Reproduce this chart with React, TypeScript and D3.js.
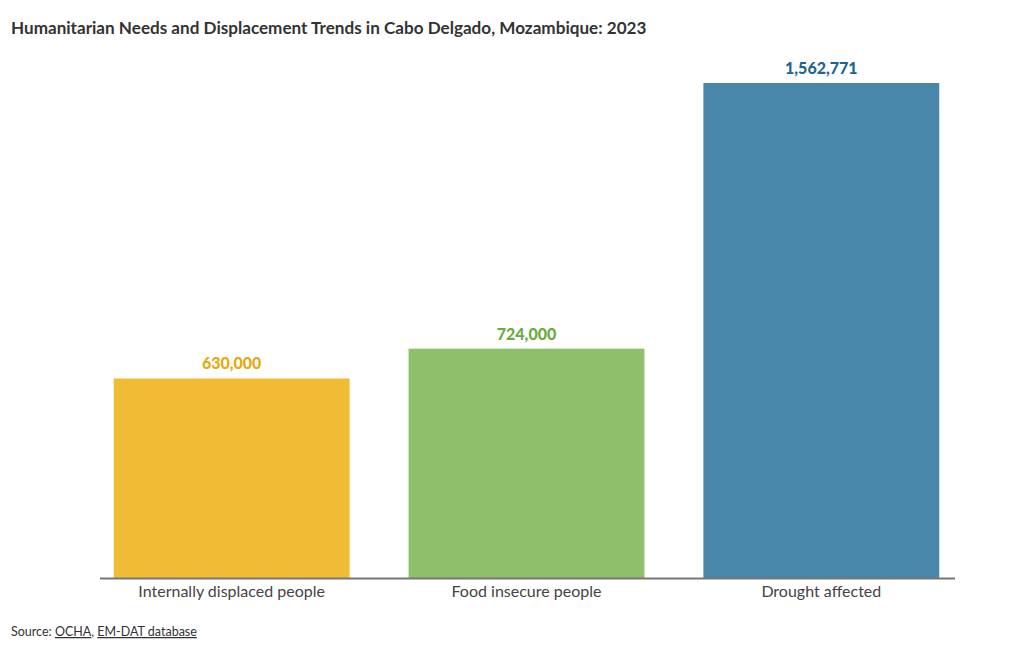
import React from "react";
import * as d3 from "d3";

const categories = ["Internally displaced people", "Food insecure people", "Drought affected"];
const values = [630000, 724000, 1562771];
const barColors = ["#F0BC35", "#8EC06C", "#4887AA"];
const labelColors = ["#E5A90C", "#6AAB3E", "#1E6593"];

const W = 1020;
const H = 650;
const FONT = "Lato, 'Open Sans', sans-serif";

export default function App() {
  const x = d3.scaleBand<string>().domain(categories).range([99, 954]).paddingInner(0.2).paddingOuter(0.05);
  const y = d3.scaleLinear().domain([0, d3.max(values)!]).range([578, 83]);
  const fmt = d3.format(",");
  return (
    <svg width={W} height={H} style={{ position: "absolute", left: 0, top: 0, fontFamily: FONT }}>
      <rect width={W} height={H} fill="#fff" />
      <text x={11} y={34} fontSize={17.1} fontWeight={700} fill="#333">
        Humanitarian Needs and Displacement Trends in Cabo Delgado, Mozambique: 2023
      </text>
      {categories.map((c, i) => (
        <g key={c}>
          <rect x={x(c)} y={y(values[i])} width={x.bandwidth()} height={y(0) - y(values[i])} fill={barColors[i]} />
          <text x={x(c)! + x.bandwidth() / 2} y={y(values[i]) - 9} textAnchor="middle" fontSize={16} fontWeight={900} fill={labelColors[i]}>
            {fmt(values[i])}
          </text>
          <text x={x(c)! + x.bandwidth() / 2} y={597} textAnchor="middle" fontSize={16} fill="#444">
            {c}
          </text>
        </g>
      ))}
      <line x1={100} x2={955} y1={578.5} y2={578.5} stroke="#777" strokeWidth={2} />
      <text x={11} y={636} fontSize={12.5} fill="#333">
        Source: <tspan textDecoration="underline">OCHA</tspan>, <tspan textDecoration="underline">EM-DAT database</tspan>
      </text>
    </svg>
  );
}
